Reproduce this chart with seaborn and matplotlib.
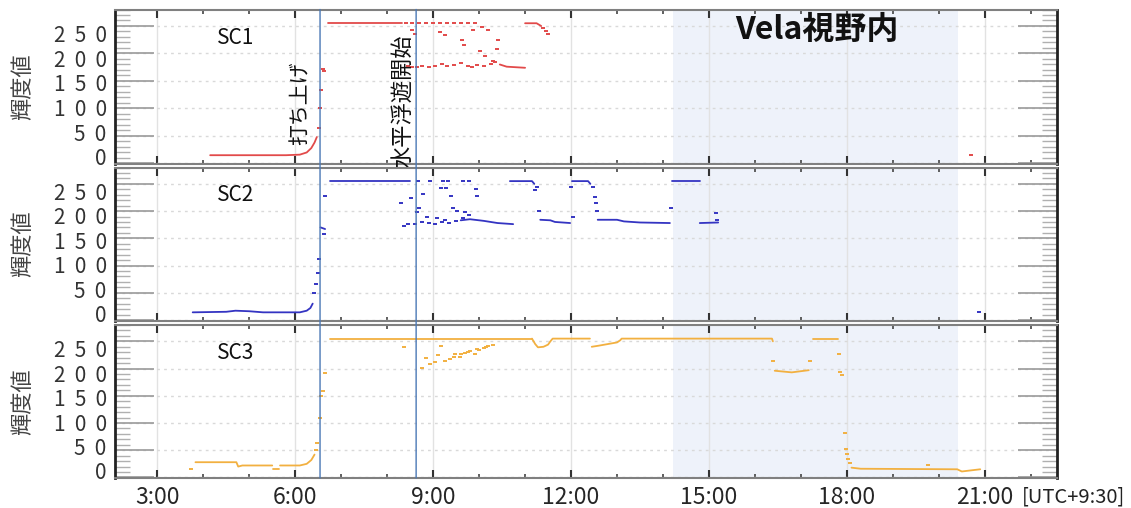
import numpy as np
import pandas as pd
import matplotlib
matplotlib.use("Agg")
import matplotlib.pyplot as plt
import matplotlib.transforms as mtransforms
from matplotlib.patches import ConnectionPatch
from matplotlib.ticker import MultipleLocator, FixedLocator, FixedFormatter
import seaborn as sns

# ---------------- data (time in hours UTC+9:30, brightness value) ----------------
SERIES_NAMES = ["SC1", "SC2", "SC3"]
SERIES_COLORS = ["#e24a4a", "#3434c2", "#f2b040"]

SC1_SEGMENTS = [
    [(4.15, 15), (5.8, 15), (6.1, 16), (6.25, 20), (6.35, 28), (6.42, 38), (6.47, 48)],
    [(6.72, 255), (8.33, 255)],
    [(10.45, 180), (10.6, 176), (11.0, 174)],
    [(11.0, 255), (11.25, 255), (11.35, 250)],
]
SC1_POINTS = [
    (6.52, 65), (6.53, 100), (6.55, 133), (6.60, 172), (6.62, 168),
    (8.40, 255), (8.55, 255), (8.70, 255), (8.85, 255), (9.00, 255), (9.15, 255),
    (9.30, 255), (9.45, 255), (9.60, 255), (9.75, 255), (9.90, 255),
    (8.55, 243), (8.60, 236), (9.15, 239), (9.25, 233), (9.63, 224), (9.68, 216),
    (9.87, 242), (10.07, 248), (10.03, 205), (10.13, 195), (10.20, 242),
    (10.40, 225), (10.38, 209), (10.30, 186), (10.25, 181),
    (8.45, 178), (8.55, 176), (8.65, 175), (8.75, 177), (8.90, 176), (9.05, 178),
    (9.20, 180), (9.30, 177), (9.45, 179), (9.60, 182), (9.75, 178), (9.85, 176),
    (9.95, 179), (10.10, 177), (10.35, 185),
    (11.40, 246), (11.45, 240), (11.50, 235),
    (20.70, 15),
]

SC2_SEGMENTS = [
    [(3.77, 14), (4.5, 15), (4.7, 17), (5.0, 16), (5.3, 14), (6.1, 14), (6.25, 17), (6.33, 22), (6.38, 30)],
    [(6.55, 170), (6.65, 167)],
    [(6.76, 255), (8.5, 255)],
    [(9.6, 183), (9.8, 185), (10.1, 182), (10.4, 178), (10.74, 176)],
    [(10.67, 255), (11.15, 255), (11.2, 250)],
    [(11.33, 184), (11.55, 183), (11.65, 180), (11.98, 178)],
    [(12.02, 255), (12.37, 255), (12.42, 250)],
    [(12.58, 184), (13.0, 184), (13.15, 181), (13.5, 179), (14.15, 178)],
    [(14.2, 255), (14.8, 255)],
    [(14.8, 178), (15.2, 179)],
]
SC2_POINTS = [
    (6.41, 49), (6.45, 66), (6.49, 86), (6.52, 112), (6.63, 157), (6.65, 228),
    (8.67, 255), (8.93, 255), (9.22, 255), (9.33, 255), (9.65, 255), (9.78, 255),
    (9.17, 243), (9.28, 242), (9.93, 240),
    (8.52, 224), (8.78, 231), (9.39, 227), (9.96, 228),
    (8.30, 214), (8.65, 199), (8.70, 205), (8.87, 190), (9.43, 205), (9.52, 201),
    (9.70, 198), (9.78, 193), (9.09, 188), (9.26, 184), (9.65, 187),
    (8.37, 172),
    (8.45, 176), (8.60, 177), (8.75, 179), (8.90, 178), (9.05, 177), (9.20, 180),
    (9.35, 178), (9.50, 181),
    (11.26, 245), (11.22, 239), (11.30, 200),
    (12.00, 245), (12.05, 190),
    (12.48, 244), (12.52, 226), (12.54, 214), (12.57, 201),
    (14.18, 205),
    (15.15, 197), (15.17, 184),
    (20.87, 14),
]

SC3_SEGMENTS = [
    [(3.83, 28), (4.72, 28), (4.76, 20), (4.85, 22), (5.5, 22)],
    [(5.52, 16), (5.65, 16)],
    [(5.67, 22), (6.1, 22), (6.25, 25), (6.35, 32), (6.42, 42)],
    [(6.76, 255), (11.15, 255)],
    [(11.15, 255), (11.22, 245), (11.28, 239), (11.4, 240), (11.5, 244), (11.55, 250), (11.6, 255), (12.41, 255)],
    [(12.45, 240), (12.6, 242), (12.8, 245), (13.0, 248), (13.07, 252), (13.1, 255), (16.37, 255), (16.39, 250)],
    [(16.43, 196), (16.8, 193), (17.17, 197)],
    [(17.26, 255), (17.8, 255)],
    [(18.1, 18), (18.3, 16), (20.4, 15), (20.5, 11), (20.6, 12), (20.9, 15)],
]
SC3_POINTS = [
    (3.73, 16),
    (6.45, 50), (6.48, 63), (6.53, 109), (6.56, 150), (6.60, 159), (6.65, 192),
    (8.37, 240), (8.76, 201), (8.85, 219), (8.93, 209), (9.03, 212), (9.10, 224),
    (9.18, 242), (9.26, 213), (9.37, 217), (9.45, 222), (9.48, 227), (9.59, 221),
    (9.60, 226), (9.70, 229), (9.75, 230), (9.80, 232), (9.90, 226), (9.95, 236),
    (10.00, 235), (10.10, 238), (10.15, 240), (10.20, 242), (10.30, 244),
    (16.40, 213), (17.20, 214),
    (17.82, 227), (17.86, 194), (17.90, 188), (17.96, 82), (17.98, 52), (18.00, 43),
    (18.02, 34), (18.06, 27),
    (19.76, 23),
]

LAUNCH_T = 6.54
FLOAT_T = 8.63
VELA_SPAN = (14.21, 20.41)
X_TICKS = [3, 6, 9, 12, 15, 18, 21]
X_LABELS = ["3:00", "6:00", "9:00", "12:00", "15:00", "18:00", "21:00"]
Y_TICKS = [0, 50, 100, 150, 200, 250]
Y_LABELS = ["  ".join(str(v)) for v in Y_TICKS]

# ---------------- style ----------------
sns.set_style("white")
plt.rcParams["font.family"] = ["Noto Sans CJK JP", "DejaVu Sans"]

fig = plt.figure(figsize=(11.31, 5.08), dpi=100)
W, H = 1131, 508
left, right = 115 / W, 1057 / W
panel_px = [(9.5, 164), (167.5, 320.5), (325, 478)]
axes = []
for top, bot in panel_px:
    ax = fig.add_axes([left, 1 - bot / H, right - left, (bot - top) / H])
    axes.append(ax)

all_segments = [SC1_SEGMENTS, SC2_SEGMENTS, SC3_SEGMENTS]
all_points = [SC1_POINTS, SC2_POINTS, SC3_POINTS]

for i, ax in enumerate(axes):
    color = SERIES_COLORS[i]
    ax.axvspan(*VELA_SPAN, color="#eef2fa", zorder=0, lw=0)

    rows = []
    for sid, seg in enumerate(all_segments[i]):
        for t, v in seg:
            rows.append({"t": t, "v": v, "seg": sid})
    df = pd.DataFrame(rows)
    sns.lineplot(data=df, x="t", y="v", units="seg", estimator=None, sort=False,
                 color=color, lw=1.3, ax=ax, legend=False, zorder=3)
    pts = pd.DataFrame(all_points[i], columns=["t", "v"])
    sns.scatterplot(data=pts, x="t", y="v", marker="_", s=12, linewidth=1.4,
                    color=color, ax=ax, legend=False, zorder=3)

    ax.set_xlim(2.08, 22.57)
    ax.set_ylim(-1, 280)
    ax.set_xlabel("")
    ax.set_ylabel("輝度値", fontsize=16, color="#444444")
    ax.yaxis.set_label_coords(-0.086, 0.5)

    ax.xaxis.set_major_locator(FixedLocator(X_TICKS))
    ax.xaxis.set_minor_locator(MultipleLocator(1))
    ax.yaxis.set_major_locator(FixedLocator(Y_TICKS))
    ax.yaxis.set_major_formatter(FixedFormatter(Y_LABELS))
    ax.yaxis.set_minor_locator(MultipleLocator(10))

    ax.grid(axis="x", which="major", color="#e2e2e2", lw=1.0, ls="-", zorder=1)
    ax.grid(axis="y", which="major", color="#d9d9d9", lw=1.0, ls=(0, (2, 3)), zorder=1)
    ax.set_axisbelow(True)

    ax.tick_params(axis="x", which="major", direction="in", top=True, bottom=True,
                   length=6, width=1.5, color="#333333", labelsize=16.5, pad=6)
    ax.tick_params(axis="x", which="minor", direction="in", top=True, bottom=True,
                   length=3, width=1.2, color="#444444")
    ax.tick_params(axis="y", which="major", direction="in", left=True, right=True,
                   length=28, width=1.2, color="#9a9a9a", labelsize=15, pad=6,
                   labelcolor="#333333")
    ax.tick_params(axis="y", which="minor", direction="in", left=True, right=True,
                   length=11, width=1.0, color="#b0b0b0")
    # labels in the reference sit on a slightly compressed scale
    for val, lab in zip(Y_TICKS, ax.get_yticklabels()):
        dy = (6.5 - 14.1 * val / 250) / 100
        lab.set_transform(lab.get_transform() +
                          mtransforms.ScaledTranslation(0, dy, fig.dpi_scale_trans))

    if i < 2:
        ax.tick_params(axis="x", labelbottom=False)
    else:
        ax.set_xticklabels(X_LABELS)

    for side in ["left", "right"]:
        ax.spines[side].set_color("#222222")
        ax.spines[side].set_linewidth(2.0)
    for side in ["top", "bottom"]:
        ax.spines[side].set_color("#808080")
        ax.spines[side].set_linewidth(1.5)

    ax.text(4.7, 229, SERIES_NAMES[i], fontsize=15, ha="center", va="center",
            color="#111111", zorder=5)

# event lines spanning all panels
for t in [LAUNCH_T, FLOAT_T]:
    con = ConnectionPatch(xyA=(t, 280), coordsA=axes[0].transData,
                          xyB=(t, -1), coordsB=axes[2].transData,
                          color="#4a78b5", lw=1.0, zorder=6)
    fig.add_artist(con)

axes[0].text(6.11, 109, "打ち上げ", rotation=90, fontsize=15, ha="center",
             va="center", color="#111111", zorder=5)
axes[0].text(8.33, 114, "水平浮遊開始", rotation=90, fontsize=16, ha="center",
             va="center", color="#111111", zorder=5, clip_on=False)
axes[0].text(17.35, 242, "Vela視野内", fontsize=23, fontweight="bold", ha="center",
             va="center", color="#111111", zorder=5)

fig.text(1073 / W, 1 - 497 / H, "[UTC+9:30]", fontsize=14.5, ha="center",
         va="center", color="#222222")

fig.savefig("out.png", dpi=100)
